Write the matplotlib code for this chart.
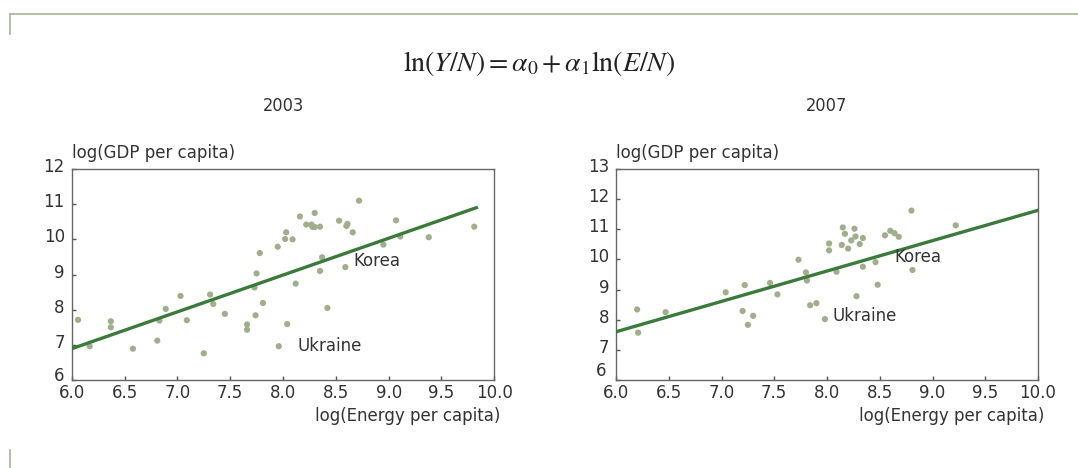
import matplotlib.pyplot as plt
from matplotlib.lines import Line2D
from matplotlib.transforms import ScaledTranslation

# log energy per capita vs log GDP per capita, by country
x_2003 = [6.06, 6.17, 6.37, 6.37, 6.58, 6.81, 6.83, 6.89, 7.03, 7.09,
          7.25, 7.31, 7.34, 7.45, 7.66, 7.66, 7.73, 7.74, 7.75, 7.78,
          7.81, 7.95, 7.96, 8.02, 8.03, 8.04, 8.09, 8.12, 8.16, 8.22,
          8.27, 8.28, 8.30, 8.30, 8.35, 8.35, 8.37, 8.42, 8.53, 8.59,
          8.60, 8.61, 8.66, 8.72, 8.95, 9.07, 9.11, 9.38, 9.81]
y_2003 = [7.71, 6.96, 7.50, 7.67, 6.89, 7.12, 7.69, 8.02, 8.39, 7.70,
          6.76, 8.43, 8.16, 7.88, 7.58, 7.43, 8.63, 7.84, 9.03, 9.61,
          8.19, 9.79, 6.96, 10.01, 10.20, 7.59, 10.00, 8.74, 10.65, 10.42,
          10.42, 10.35, 10.75, 10.35, 10.36, 9.10, 9.49, 8.05, 10.53, 9.21,
          10.38, 10.44, 10.20, 11.10, 9.85, 10.54, 10.08, 10.06, 10.36]

x_2007 = [6.20, 6.21, 6.47, 7.04, 7.20, 7.22, 7.25, 7.30, 7.46, 7.53,
          7.73, 7.80, 7.81, 7.84, 7.90, 7.98, 8.02, 8.02, 8.09, 8.14,
          8.15, 8.17, 8.20, 8.23, 8.26, 8.27, 8.28, 8.31, 8.34, 8.34,
          8.46, 8.48, 8.55, 8.60, 8.64, 8.68, 8.80, 8.81, 9.22]
y_2007 = [8.34, 7.57, 8.25, 8.91, 8.29, 9.15, 7.83, 8.13, 9.22, 8.84,
          9.99, 9.57, 9.30, 8.48, 8.55, 8.02, 10.53, 10.30, 9.59, 10.48,
          11.06, 10.85, 10.36, 10.63, 11.02, 10.76, 8.78, 10.51, 10.71, 9.76,
          9.91, 9.16, 10.80, 10.95, 10.87, 10.75, 11.62, 9.65, 11.13]

# fitted line ln(Y/N) = a0 + a1 ln(E/N), end points
fit_x_2003 = [6.0, 9.83]
fit_y_2003 = [6.89, 10.90]
fit_x_2007 = [6.0, 10.0]
fit_y_2007 = [7.60, 11.63]

xticks = [6.0, 6.5, 7.0, 7.5, 8.0, 8.5, 9.0, 9.5, 10.0]
yticks_2003 = [6, 7, 8, 9, 10, 11, 12]
yticks_2007 = [6, 7, 8, 9, 10, 11, 12, 13]

# labelled countries: (name, text x, text y)
notes_2003 = [("Korea", 8.67, 9.39), ("Ukraine", 8.14, 6.97)]
notes_2007 = [("Korea", 8.64, 10.08), ("Ukraine", 8.05, 8.11)]

DOT = '#a0ae8e'
FIT = '#3c7a3c'
TXT = '#333333'
FRAME = '#a9b39a'

plt.rcParams['font.family'] = ['DejaVu Sans']
plt.rcParams['mathtext.fontset'] = 'stix'

fig = plt.figure(figsize=(10.78, 4.68), dpi=100)

# thin page frame: top rule with short corner marks
fig.add_artist(Line2D([10/1078, 1.0], [1 - 14/468, 1 - 14/468],
                      transform=fig.transFigure, color=FRAME, lw=1.2))
fig.add_artist(Line2D([10/1078, 10/1078], [1 - 14/468, 1 - 34/468],
                      transform=fig.transFigure, color=FRAME, lw=1.2))
fig.add_artist(Line2D([10/1078, 10/1078], [18/468, 0],
                      transform=fig.transFigure, color=FRAME, lw=1.2))

fig.text(0.5, 1 - 64/468,
         r'$\mathrm{ln}(Y/N)=\alpha_0+\alpha_1\mathrm{ln}(E/N)$',
         ha='center', va='center', fontsize=20, color='#222222')


def panel(rect, year, xs, ys, fx, fy, yticks, notes, low_lift):
    ax = fig.add_axes(rect)
    ax.scatter(xs, ys, s=20, color=DOT, edgecolors='none', zorder=2)
    ax.plot(fx, fy, color=FIT, lw=2.4, zorder=3)
    for name, tx, ty in notes:
        ax.text(tx, ty, name, fontsize=12, color=TXT, va='center', ha='left')
    ax.set_xlim(6.0, 10.0)
    ax.set_ylim(yticks[0], yticks[-1])
    ax.set_xticks(xticks)
    ax.set_xticklabels([f'{v:.1f}' for v in xticks])
    ax.set_yticks(yticks)
    ax.tick_params(direction='in', length=3, width=1, color='#555555',
                   labelsize=12, labelcolor=TXT)
    ax.tick_params(axis='x', pad=3)
    ax.tick_params(axis='y', pad=5)
    # y labels sit a little above their ticks, the lowest one more so
    labs = ax.get_yticklabels()
    for i, lab in enumerate(labs):
        dy = 4 + (low_lift if i == 0 else 0)
        dx = -3 if (i == 0 and low_lift > 4) else 0
        shift = ScaledTranslation(dx/100, dy/100, fig.dpi_scale_trans)
        lab.set_transform(lab.get_transform() + shift)
    for s in ax.spines.values():
        s.set_color('#666666')
        s.set_linewidth(1)
    ax.text(0.0, 1.075, 'log(GDP per capita)', transform=ax.transAxes,
            fontsize=12, color=TXT, ha='left', va='center')
    ax.text(1.015, -0.17, 'log(Energy per capita)', transform=ax.transAxes,
            fontsize=12, color=TXT, ha='right', va='center')
    fig.text(rect[0] + rect[2] * 0.5, 1 - 106/468, year, ha='center',
             va='center', fontsize=13, color=TXT, fontstretch='condensed')
    return ax


panel([71.7/1078, 88/468, 422.6/1078, 211/468], '2003',
      x_2003, y_2003, fit_x_2003, fit_y_2003, yticks_2003, notes_2003, 2)
panel([616/1078, 88/468, 422/1078, 211/468], '2007',
      x_2007, y_2007, fit_x_2007, fit_y_2007, yticks_2007, notes_2007, 7)

fig.savefig('out.png', dpi=100)
